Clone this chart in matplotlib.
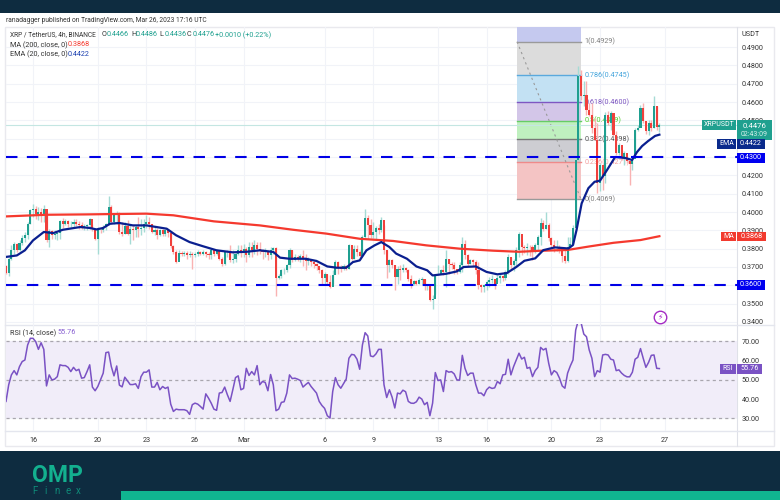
import numpy as np
import matplotlib
matplotlib.use('Agg')
import matplotlib.pyplot as plt
from matplotlib.patches import Rectangle

# 4h candles, in 1/10000 of a USDT, open = previous close
closes = np.array([
    3667,3745,3794,3827,3794,3831,3860,3873,3936,4009,
    4018,3987,4000,3991,4018,3845,3896,3873,3882,3885,
    3951,3936,3951,3936,3936,3945,3936,3927,3918,3922,
    3927,3963,3909,3854,3903,3900,3918,3933,4027,3945,
    3987,3991,3891,3882,3922,3882,3909,3903,3918,3909,
    3914,3936,3945,3936,3891,3900,3873,3900,3882,3900,
    3885,3813,3782,3727,3776,3769,3776,3763,3773,3763,
    3773,3782,3773,3782,3769,3763,3791,3773,3787,3745,
    3714,3782,3785,3736,3745,3773,3791,3787,3800,3763,
    3809,3791,3818,3800,3791,
    3782,3787,3763,3794,3805,3642,3649,3682,3685,3709,
    3794,3740,3754,3745,3758,3745,3733,3745,3727,3714,
    3703,3682,3642,3663,3618,3591,3654,3727,3696,3691,
    3703,3691,3818,3745,3800,3782,3758,3863,3969,3927,
    3873,3891,3914,3900,3954,3791,3709,3736,3709,3645,
    3691,3682,3696,3685,3636,3609,3623,3609,3631,3636,
    3600,3600,3518,3527,3654,3663,3682,3673,3745,3714,
    3709,3691,3673,3709,3827,3763,3714,3736,3727,3685,
    3600,3591,3600,3618,3631,3636,3609,3642,3649,3642,
    3673,3754,3709,3733,3791,3882,
    3810,3801,3810,3807,3783,3820,3865,3938,3905,3929,
    3856,3820,3807,3810,3796,3760,3734,3810,3825,3911,
    4285,4744,4635,4640,4558,4531,4458,4395,4158,4258,
    4195,4531,4486,4540,4422,4322,4367,4295,4322,4276,
    4264,4289,4449,4458,4567,4495,4440,4486,4458,4576,
    4466,4476]) / 1e4
highs = np.array([
    3709,3754,3818,3836,3831,3845,3873,3891,3945,4018,
    4042,4031,4027,4023,4036,3991,3909,3903,3900,3891,
    3954,3969,3963,3954,3951,3963,3963,3951,3945,3936,
    3936,3969,3936,3900,3918,3914,3929,3940,4085,4036,
    3994,4005,4000,3945,3945,3954,3936,3927,3927,3973,
    3963,3963,3982,3973,3936,3918,3914,3909,3909,3909,
    3909,3891,3818,3791,3791,3787,3787,3785,3785,3782,
    3782,3791,3785,3791,3787,3782,3800,3794,3798,3791,
    3754,3785,3794,3818,3791,3782,3818,3818,3827,3809,
    3836,3836,3845,3836,3836,
    3800,3805,3791,3809,3809,3809,3663,3689,3696,3718,
    3805,3791,3773,3763,3773,3791,3769,3754,3745,3736,
    3722,3703,3691,3673,3663,3654,3682,3740,3733,3709,
    3714,3709,3827,3813,3818,3818,3794,3873,4018,3982,
    3963,3945,3922,3936,3973,3927,3791,3745,3745,3709,
    3703,3709,3718,3700,3691,3654,3631,3627,3642,3645,
    3636,3609,3603,3545,3663,3709,3691,3709,3791,3745,
    3727,3727,3691,3727,3863,3845,3773,3745,3745,3736,
    3727,3609,3609,3627,3645,3654,3636,3654,3663,3654,
    3682,3773,3754,3745,3809,3891,
    3838,3820,3829,3820,3820,3829,3874,3965,3956,4001,
    3938,3861,3847,3847,3820,3801,3792,3865,3861,3929,
    4304,4795,4776,4713,4713,4595,4595,4513,4486,4267,
    4204,4544,4549,4549,4486,4440,4376,4340,4331,4295,
    4276,4295,4458,4476,4586,4595,4495,4504,4504,4635,
    4576,4486]) / 1e4
lows = np.array([
    3663,3649,3736,3773,3782,3787,3818,3836,3854,3936,
    3973,3963,3954,3945,3945,3836,3809,3854,3854,3845,
    3854,3914,3927,3918,3918,3918,3922,3909,3909,3903,
    3903,3909,3896,3845,3773,3885,3891,3900,3927,3936,
    3936,3936,3882,3867,3878,3873,3827,3845,3863,3863,
    3873,3891,3914,3909,3885,3873,3854,3871,3867,3867,
    3863,3805,3773,3722,3754,3762,3758,3745,3754,3691,
    3754,3762,3763,3763,3754,3745,3745,3758,3763,3736,
    3703,3709,3754,3727,3722,3727,3763,3754,3754,3727,
    3754,3754,3773,3763,3769,
    3745,3754,3736,3745,3773,3540,3636,3642,3663,3673,
    3696,3727,3733,3733,3727,3703,3682,3709,3703,3696,
    3682,3667,3609,3605,3609,3587,3605,3663,3663,3673,
    3682,3682,3691,3740,3745,3758,3745,3758,3860,3854,
    3860,3860,3854,3878,3891,3773,3642,3673,3696,3573,
    3609,3627,3673,3673,3623,3587,3600,3600,3605,3605,
    3573,3573,3514,3473,3554,3654,3660,3654,3591,3660,
    3689,3663,3660,3667,3673,3745,3703,3718,3703,3660,
    3580,3563,3563,3573,3591,3613,3582,3618,3613,3623,
    3631,3660,3685,3678,3703,3754,
    3765,3774,3765,3760,3738,3774,3792,3820,3898,3905,
    3843,3807,3783,3789,3778,3729,3720,3729,3801,3825,
    3905,4285,4613,4576,4531,4522,4431,4395,4104,4113,
    4118,4158,4476,4449,4413,4313,4313,4285,4258,4267,
    4149,4231,4295,4440,4476,4486,4427,4422,4440,4458,
    4449,4436]) / 1e4
first_open = 0.3703

ema_bars = [0,4,7,10,14,17.5,21,27.5,31,33.5,36,38.5,42,47,52,59.5,63,68,73,78,84,89,94,
            99,101.5,105,111,115,119,122.5,126,128.5,131,133.5,136.5,139,142,144.5,148.5,
            152,156,158,163,167,169.5,174,178,182,185.5,189,192,196,199,203.3,208.3,210,
            211.3,213.2,215.7,218,220,222.6,225.6,229.3,231.9,233.7,235.6,237.8,240.4,242]
ema_vals = [.3755,.3763,.3791,.3845,.3891,.3885,.3903,.3918,.3913,.3905,.3913,.3936,.3940,
            .3927,.3927,.3909,.3873,.3836,.3813,.3791,.3780,.3783,.3791,.3782,.3751,.3745,
            .3745,.3733,.3703,.3696,.3696,.3727,.3736,.3791,.3818,.3836,.3809,.3773,.3745,
            .3703,.3682,.3654,.3663,.3676,.3700,.3703,.3673,.3660,.3667,.3700,.3734,.3747,
            .3792,.3807,.3801,.3820,.3901,.4047,.4130,.4165,.4171,.4229,.4300,.4295,.4284,
            .4327,.4360,.4387,.4415,.4422]
ma_bars = [0,15,30,40,52,62,77,94,106.4,118.7,131,143.4,155.7,168,180.4,190,197,208,216,225,235,242]
ma_vals = [.3976,.3985,.3987,.3989,.3991,.3982,.3949,.3927,.3903,.3882,.3854,.3842,.3818,
           .3800,.3789,.3783,.3788,.3793,.3812,.3832,.3847,.3868]

rsi_vals = [38.8,47.4,52.5,54.7,52.5,56.8,59.4,60.2,67.9,71.4,
            71.4,69.7,65.7,69.1,65.7,46.8,52.5,49.9,50.3,51.6,
            57.7,57.3,57.3,56.4,54.2,56.4,54.7,55.4,50.8,51.1,
            54.2,57.7,46.2,44.3,46.5,49.9,53.4,64,64.3,56.8,
            52,57.1,47.2,46.3,51.3,49.4,47.5,47.5,47.9,45.5,
            51.6,53.9,53.9,55.1,46.2,46.2,48.6,44.8,46.5,45.5,
            46.2,37.4,33.6,34.8,34.5,34.5,34.5,34,32.1,37.1,
            37.9,37.4,36.2,34.8,42.7,40.5,37.9,34.8,34.2,43.1,
            43.4,46.2,42.2,38.8,44.8,51.1,52,44.8,45.5,55.9,
            52.2,54.2,52.5,57.3,47.4,49.1,48.6,44.3,52.7,47.4,
            34,34.8,38.3,38.6,43.1,52.5,50.6,50.8,50.3,49.6,
            46.2,47.5,48.6,46.5,44.8,43.1,38.8,36.7,35.2,31.4,
            30.2,43.9,51.1,47.4,45.6,47.9,50.3,61.1,63.1,62.8,
            60.6,55.4,67.9,74.3,72.6,62.3,61.9,63.3,65.7,65.7,
            47.4,40.8,44.8,
            41.0,35.4,43.1,42.7,44.6,43.8,38.8,37.9,37.8,38.6,
            41.0,40.0,37.1,38.3,31.4,37.9,53.7,49.6,49.9,43.9,
            54.7,53.9,54.2,53.0,49.9,49.8,62.6,55.9,52.2,53.4,
            53.4,47.4,43.1,43.1,41.7,44.8,46.2,45.5,45.8,49.1,
            47.9,52.5,52.8,60.6,52.5,56.8,60.2,63.7,60.7,61.6,
            55.9,56.4,51.6,54.7,56.4,66.7,65.4,66.2,58.5,52.5,
            54.7,53.7,50.8,46.8,45.6,53.4,57.1,60.2,75.7,80.8,
            79.4,73.6,72.2,65.4,61.1,51.6,54.7,53.9,62.8,63.1,
            62.8,60.6,60.2,54.7,55.1,53.4,52.2,51.5,51.5,53.9,
            60.6,61.6,66.1,61.1,56.4,59.0,62.6,62.8,55.9,55.76]

fib_ratios = ['1', '0.786', '0.618', '0.5', '0.382', '0.236', '0']
fib_prices = [.4929, .4745, .4600, .4499, .4398, .4271, .4069]
fib_fills = ['#dcdcdc', '#c3e1f3', '#d3c6e8', '#bff0bf', '#cdcdd2', '#f4c4c4']
fib_lines = ['#9a9a9a', '#5aa9dd', '#7e57c2', '#66cc66', '#777777', '#ef8a8a', '#9a9a9a']
fib_text = ['#808080', '#45a5dc', '#7e57c2', '#4fd32a', '#555555', '#f4a0a0', '#808080']

price_ticks = [.34,.35,.36,.37,.38,.39,.40,.41,.42,.43,.44,.45,.46,.47,.48,.49]
# these three sit fully behind the coloured price boxes
hidden_ticks = [.36, .43, .44]
rsi_ticks = [30, 40, 50, 60, 70]
day_ticks = [0, 4, 7, 10, 13, 18, 21, 25, 28, 32, 35, 39]
day_labels = ['16', '20', '23', '26', 'Mar', '6', '9', '13', '16', '20', '23', '27']

NAVY = '#0e2c40'
TEAL = '#1fa08f'
FS = 5.2
plt.rcParams['font.family'] = ['Roboto', 'DejaVu Sans']


def to_day(bar):
    # bar 0 is 10 four hour bars before Feb 16
    return (np.asarray(bar, dtype=float) - 10) / 6.0


def box(ax, x0, x1, y0, y1, color, text=None, size=FS, tcolor='white'):
    ax.add_patch(Rectangle((x0, y0), x1 - x0, y1 - y0, fc=color, ec='none'))
    if text:
        ax.text((x0 + x1) / 2.0, (y0 + y1) / 2.0, text, color=tcolor, fontsize=size,
                ha='center', va='center')


fig = plt.figure(figsize=(7.8, 5.0), dpi=100, facecolor='white')

# page furniture in pixel coordinates
bg = fig.add_axes([0, 0, 1, 1], zorder=0)
bg.set_xlim(0, 780)
bg.set_ylim(500, 0)
bg.axis('off')
box(bg, 0, 780, 0, 13, NAVY)
box(bg, 0, 780, 451, 500, NAVY)
box(bg, 121, 780, 491, 500, '#10b490')
bg.add_patch(Rectangle((5, 27), 769, 419, fc='white', ec='#e9e9ee', lw=1))
bg.plot([737, 737], [27, 446], color='#dfe1e8', lw=0.8)
bg.plot([5, 774], [324.5, 324.5], color='#e4e6ee', lw=1)
bg.plot([5, 774], [431, 431], color='#e4e6ee', lw=1)
bg.text(6, 20, 'ranadagger published on TradingView.com, Mar 26, 2023 17:16 UTC',
        fontsize=4.8, color='#333333', va='center')
bg.text(32, 475, 'OMP', fontsize=16.5, fontweight='bold', color='#13b08f',
        va='center', ha='left')
bg.text(32, 491, 'F', fontsize=7, color='#0f8a78', va='center', ha='left')
for x, letter in zip([44, 54, 65, 76], ['i', 'n', 'e', 'x']):
    bg.text(x, 491, letter, fontsize=7, color='#0f8a78', va='center', ha='left')

ax = fig.add_axes([6 / 780.0, 1 - 324 / 500.0, 731 / 780.0, 297 / 500.0], zorder=1)
ax_rsi = fig.add_axes([6 / 780.0, 1 - 431 / 500.0, 731 / 780.0, 107 / 500.0], zorder=1, sharex=ax)
for a in (ax, ax_rsi):
    a.patch.set_alpha(0)
    for s in a.spines.values():
        s.set_visible(False)
    a.yaxis.tick_right()
    a.tick_params(length=0, labelsize=FS, labelcolor='#333333')
    a.tick_params(axis='y', pad=3.5)
    a.grid(True, color='#f1f3f8', lw=0.8)
    a.set_axisbelow(True)

ax.set_xlim(-1.667, 43.457)
ax.set_ylim(0.3389, 0.50094)
ax.set_yticks(price_ticks)
ax.set_yticklabels(['' if p in hidden_ticks else '%.4f' % p for p in price_ticks])
ax.set_xticks(day_ticks)
ax.tick_params(axis='x', labelbottom=False)

# fibonacci retracement block
fib_x0, fib_x1 = 29.88, 33.83
ax.fill_between([fib_x0, fib_x1], fib_prices[0], 0.50094, color='#c5c9ef', lw=0, zorder=1)
for i in range(len(fib_fills)):
    ax.fill_between([fib_x0, fib_x1], fib_prices[i + 1], fib_prices[i], color=fib_fills[i],
                    lw=0, zorder=1)
for i in range(len(fib_prices)):
    ax.plot([fib_x0, fib_x1], [fib_prices[i]] * 2, color=fib_lines[i], lw=1, zorder=2)
    ax.text(fib_x1 + 0.2, fib_prices[i], '%s(%.4f)' % (fib_ratios[i], fib_prices[i]),
            color=fib_text[i], fontsize=FS, va='center', zorder=3)
ax.plot([fib_x0, fib_x1], [fib_prices[0], fib_prices[-1]], color='#9a9a9a', lw=0.8,
        ls=(0, (2, 3)), zorder=2)

# candles
days = to_day(np.arange(len(closes)))
opens = np.r_[first_open, closes[:-1]]
up = closes >= opens
ax.vlines(days[up], lows[up], highs[up], color='#a5dbd5', lw=1.0, zorder=3)
ax.vlines(days[~up], lows[~up], highs[~up], color='#f9b2b2', lw=1.0, zorder=3)
ax.bar(days[up], (closes - opens)[up], bottom=opens[up], width=0.125, color='#1f9f90', lw=0, zorder=4)
ax.bar(days[~up], (closes - opens)[~up], bottom=opens[~up], width=0.125, color='#f0403c', lw=0, zorder=4)

ax.axhline(closes[-1], color='#c4e6e2', lw=0.8, zorder=2)
ax.plot(to_day(ma_bars), ma_vals, color='#f5392e', lw=1.6, zorder=5)
ax.plot(to_day(ema_bars), ema_vals, color='#0a1f8f', lw=1.6, zorder=6)
for level in (0.43, 0.36):
    ax.axhline(level, color='#0000e6', lw=1.5, ls=(0, (5.5, 4.5)), zorder=7)

# rsi pane
ax_rsi.set_ylim(23.5, 78.8)
ax_rsi.set_yticks(rsi_ticks)
ax_rsi.set_yticklabels(['%.2f' % r for r in rsi_ticks])
ax_rsi.set_xticks(day_ticks)
ax_rsi.set_xticklabels(day_labels)
ax_rsi.tick_params(axis='x', pad=4)
ax_rsi.axhspan(30, 70, color='#f1edf9', lw=0, zorder=1)
for level in (70, 50, 30):
    ax_rsi.axhline(level, color='#a9a6ae', lw=0.9, ls=(0, (2.5, 2.5)), zorder=2)
ax_rsi.plot(to_day(np.arange(len(rsi_vals))), rsi_vals, color='#7a52c4', lw=1.1, zorder=3)

# labels that sit on top of the axes
ov = fig.add_axes([0, 0, 1, 1], zorder=5)
ov.set_xlim(0, 780)
ov.set_ylim(500, 0)
ov.axis('off')
ov.patch.set_alpha(0)
ov.text(742, 35, 'USDT', fontsize=FS, color='#333333', va='center')
box(ov, 702, 736, 120, 130, TEAL, 'XRPUSDT', 5.0)
ov.add_patch(Rectangle((737, 120), 35, 20, fc=TEAL, ec='none'))
ov.text(743, 125.5, '0.4476', color='white', fontsize=5.6, va='center')
ov.text(741, 135, '02:43:09', color='#d6f0ec', fontsize=5.0, va='center')
box(ov, 717, 736, 138.5, 148.5, '#0a2a8c', 'EMA', 5.0)
box(ov, 737, 765, 138.5, 148.5, '#0a2a8c', '0.4422')
box(ov, 737, 765, 152.5, 162.5, '#0000f0', '0.4300')
box(ov, 721, 736, 232, 241, '#f23a2e', 'MA', 5.0)
box(ov, 737, 766, 232, 241, '#f23a2e', '0.3868')
box(ov, 737, 765, 280, 290, '#0000f0', '0.3600')
box(ov, 720, 736, 363.5, 373.5, '#7a52c4', 'RSI', 5.0)
box(ov, 737, 762, 363.5, 373.5, '#7a52c4', '55.76')
ov.plot([660], [317], 'o', ms=9, mfc='white', mec='#a42bc4', mew=1)
ov.text(660, 317, '\u26a1', color='#a42bc4', fontsize=5.5, ha='center', va='center',
        family=['DejaVu Sans'])

# legend rows
ov.text(10, 35, 'XRP / TetherUS, 4h, BINANCE', fontsize=4.8, color='#333333', va='center')
for x, letter in zip([102, 131, 159, 187], ['O', 'H', 'L', 'C']):
    ov.text(x, 35, letter, fontsize=FS, color='#333333', va='center')
for x, val in zip([107, 136, 165, 193, 215], ['0.4466', '0.4486', '0.4436', '0.4476', '+0.0010 (+0.22%)']):
    ov.text(x, 35, val, fontsize=FS, color=TEAL, va='center')
ov.text(10, 45, 'MA (200, close, 0)', fontsize=FS, color='#333333', va='center')
ov.text(68, 45, '0.3868', fontsize=FS, color='#f5392e', va='center')
ov.text(10, 54.5, 'EMA (20, close, 0)', fontsize=FS, color='#333333', va='center')
ov.text(68, 54.5, '0.4422', fontsize=FS, color='#1a3fb0', va='center')
ov.text(10, 333, 'RSI (14, close)', fontsize=FS, color='#333333', va='center')
ov.text(57, 333, '55.76', fontsize=FS, color='#8a63d2', va='center')

fig.savefig('out.png', dpi=100)
